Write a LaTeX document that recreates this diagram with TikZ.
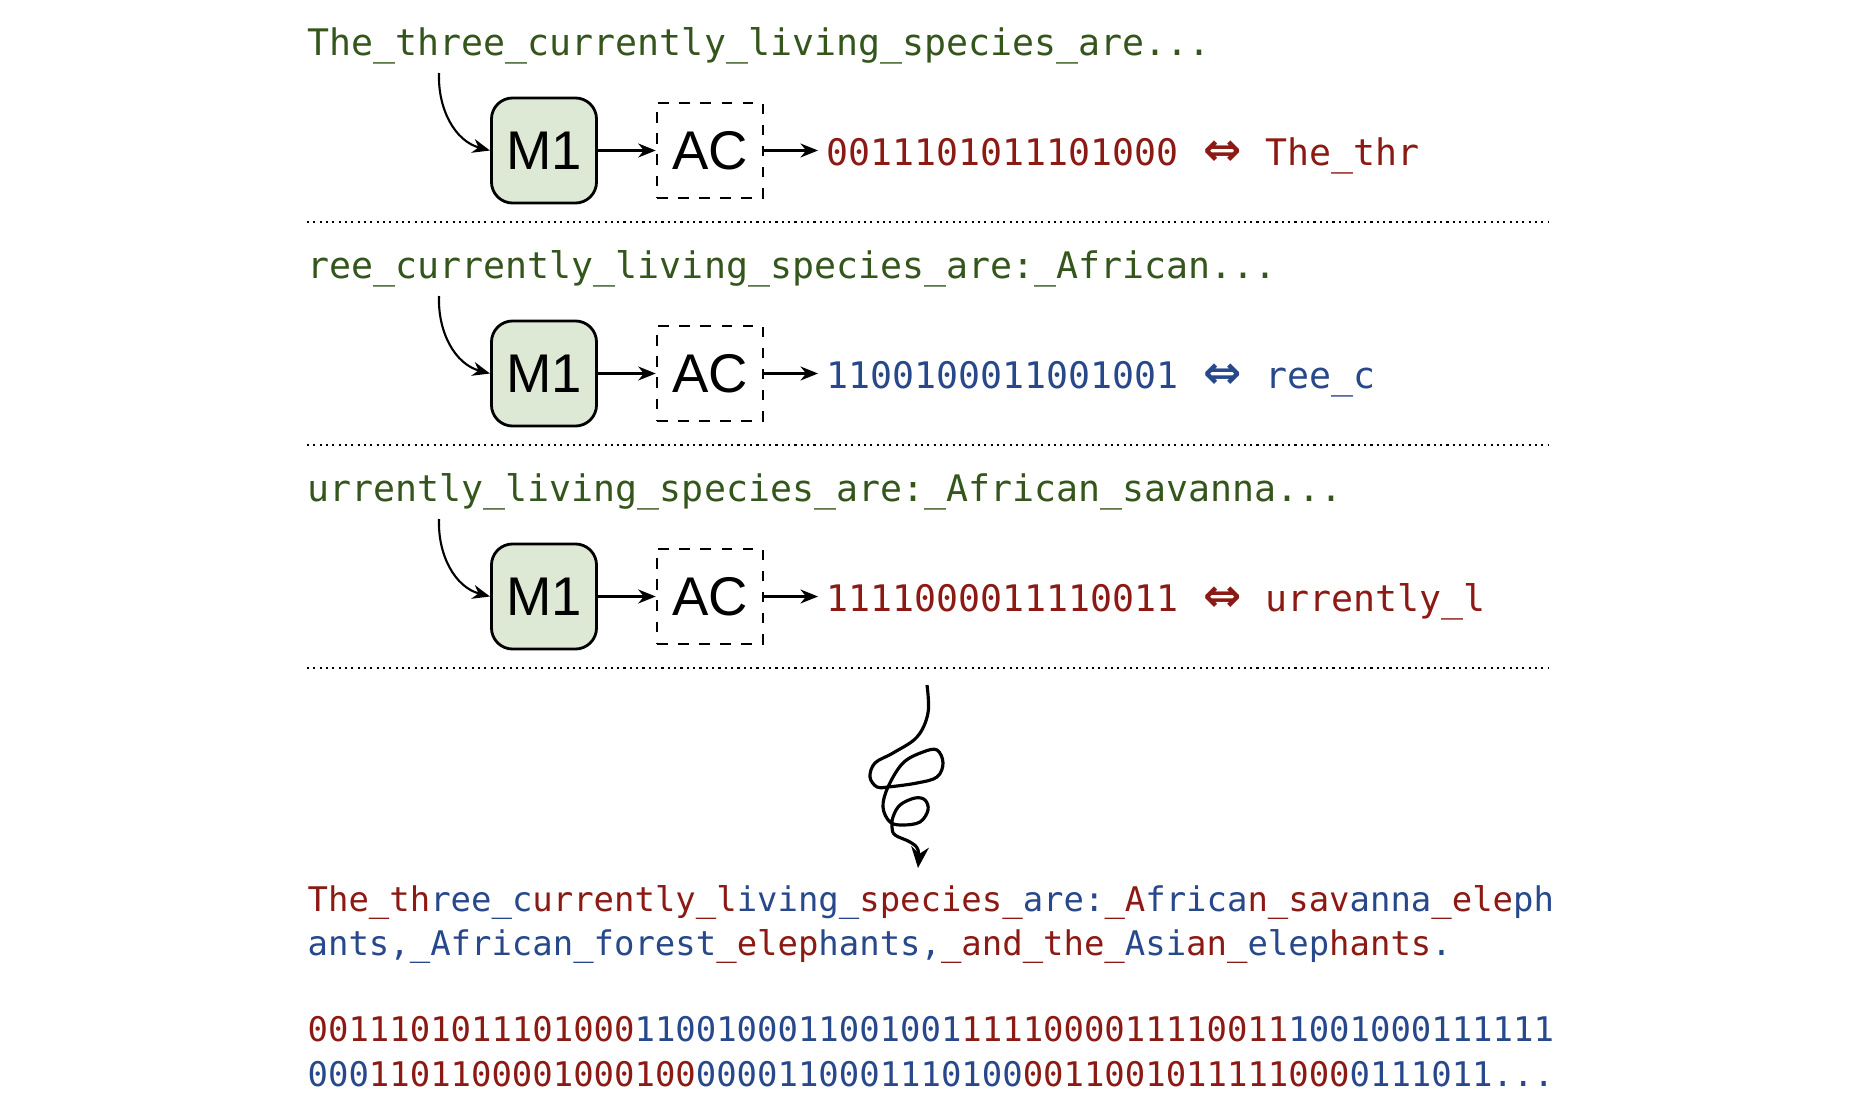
\documentclass[tikz,border=0pt]{standalone}
\usepackage{fontspec}
\setmainfont{Liberation Sans}
\setmonofont{DejaVu Sans Mono}
\newfontfamily\arrowfont{DejaVu Sans}
\usetikzlibrary{arrows.meta}

\definecolor{chunkred}{RGB}{140,26,20}
\definecolor{chunkblue}{RGB}{40,72,140}
\definecolor{inputgreen}{RGB}{52,86,28}
\definecolor{modelfill}{RGB}{221,233,213}

\newcommand\rd[1]{\textcolor{chunkred}{#1}}
\newcommand\bl[1]{\textcolor{chunkblue}{#1}}

\begin{document}
\begin{tikzpicture}[x=0.01cm,y=-0.01cm,
  intext/.style={anchor=west,inner sep=0pt,text=inputgreen,font=\ttfamily\fontsize{10.4}{12}\selectfont},
  model/.style={draw,line width=0.8pt,rounded corners=6pt,fill=modelfill,minimum width=1.05cm,minimum height=1.05cm,inner sep=0pt,font=\fontsize{15.5}{18}\selectfont},
  coder/.style={draw,dashed,line width=0.7pt,minimum width=1.06cm,minimum height=0.95cm,inner sep=0pt,font=\fontsize{15.5}{18}\selectfont},
  codetext/.style={anchor=base west,inner xsep=0.08cm,inner ysep=0pt,font=\ttfamily\fontsize{10.4}{12}\selectfont},
  flow/.style={-{Stealth[length=5pt,width=4pt]},line width=0.6pt},
  outtext/.style={anchor=west,inner sep=0pt,font=\ttfamily\fontsize{9.65}{12}\selectfont}]
\useasboundingbox (0,0) rectangle (1850,1118);

% Three encoding steps
\foreach \i/\inp/\code/\col/\dec in {
  0/{The\_three\_currently\_living\_species\_are...}/0011101011101000/chunkred/{The\_thr},
  1/{ree\_currently\_living\_species\_are:\_African...}/1100100011001001/chunkblue/{ree\_c},
  2/{urrently\_living\_species\_are:\_African\_savanna...}/1111000011110011/chunkred/{urrently\_l}} {
  \node[intext] (in\i) at (307,46+223*\i) {\inp};
  \node[model] (m\i) at (544,150.5+223*\i) {M1};
  \node[coder] (ac\i) at (710,150.5+223*\i) {AC};
  \node[codetext,text=\col] (code\i) at (818,165+223*\i) {\code};
  \node[anchor=base,inner sep=0pt,text=\col,font=\arrowfont\bfseries\fontsize{13}{14}\selectfont] (eq\i) at (1223,165+223*\i) {⇔};
  \node[codetext,inner xsep=0pt,text=\col] (dec\i) at (1265,165+223*\i) {\dec};
  \coordinate (src\i) at (439,73+223*\i);
  \draw[flow] (src\i) to[out=-92,in=165] (m\i.west);
  \draw[flow] (m\i) -- (ac\i);
  \draw[flow] (ac\i) -- (m\i.east -| code\i.west);
  % separator
  \draw[line width=0.6pt,dash pattern=on 0.6pt off 1.2pt] (307,222+223*\i) -- (1548,222+223*\i);
}

% Decoding
\coordinate (sqtop) at (927,685);
\coordinate (sqend) at (918,868);
\draw[-{Stealth[length=6pt,width=5pt]},line width=0.9pt] plot[smooth,tension=0.6] coordinates {
  (sqtop) (928,713) (917,737) (893,753) (875,763) (870,777) (877,787) (888,787)
  (917,783) (937,777) (943,763) (937,750) (923,752) (903,763) (888,787)
  (883,807) (890,822) (903,825) (920,822) (928,810) (925,800) (915,798)
  (900,805) (893,817) (892,827) (895,835) (910,842) (918,850) (sqend)};

% Output
\node[outtext] (out1) at (307,903)
  {\rd{The\_th}\bl{ree\_c}\rd{urrently\_l}\bl{iving\_}\rd{species\_}\bl{are:}\rd{\_A}\bl{frica}\rd{n\_sav}\bl{anna}\rd{\_ele}\bl{ph}};
\node[outtext] (out2) at (307,947)
  {\bl{ants,\_African\_forest}\rd{\_elep}\bl{hants,}\rd{\_and\_the\_}\bl{Asi}\rd{an\_}\bl{elep}\rd{hants}\bl{.}};
\node[outtext] (bits1) at (307,1029)
  {\rd{0011101011101000}\bl{1100100011001001}\rd{1111000011110011}\bl{1001000111111}};
\node[outtext] (bits2) at (307,1074)
  {\bl{000}\rd{1101100001000100}\bl{0000110001110100}\rd{0011001011111000}\bl{0111011...}};
\end{tikzpicture}
\end{document}
